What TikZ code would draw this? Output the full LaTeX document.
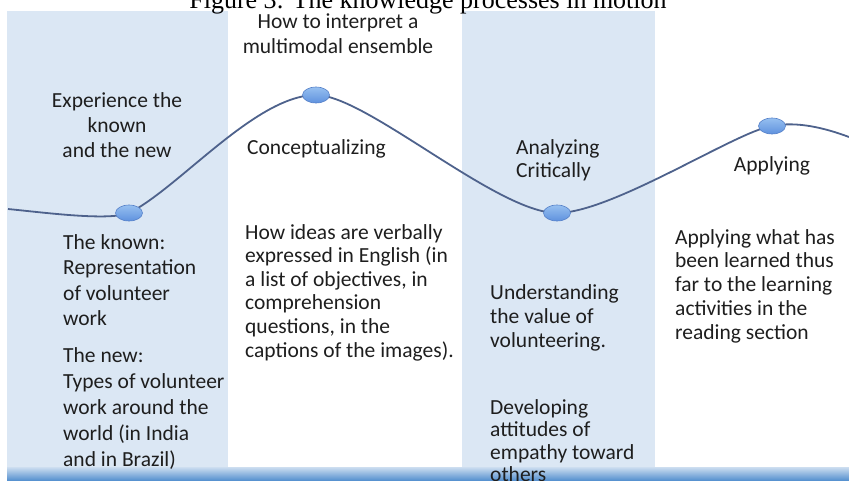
\documentclass[tikz,border=0pt]{standalone}
\usepackage{fontspec}
\usetikzlibrary{shapes.geometric}
\newfontfamily\bodyfont{Carlito}
\newfontfamily\titlefont{Liberation Serif}
\definecolor{panel}{RGB}{219,231,244}
\definecolor{wave}{RGB}{78,98,140}
\definecolor{dottop}{RGB}{150,192,240}
\definecolor{dotbottom}{RGB}{95,145,222}
\definecolor{dotedge}{RGB}{85,128,200}
\definecolor{ink}{RGB}{30,30,30}
\definecolor{barlight}{RGB}{205,222,240}
\definecolor{bardark}{RGB}{88,146,208}

\begin{document}
\begin{tikzpicture}[x=1pt,y=-1pt,
  leadsize/.style={font=\bodyfont\fontsize{21.5}{#1}\selectfont},
  txt/.style={leadsize=24, text=ink,
    inner sep=0pt, align=left, anchor=north west},
  ctxt/.style={txt, align=center, anchor=north},
  stage/.style={ellipse, minimum width=27pt, minimum height=16pt,
    inner sep=0pt, draw=dotedge, line width=0.6pt,
    top color=dottop, bottom color=dotbottom},
  wavepath/.style={draw=wave, line width=1.8pt}]

\useasboundingbox (0,0) rectangle (849,480);
\clip (0,0) rectangle (849,480);

% shaded columns and the base bar
\fill[panel] (7,11) rectangle (228,480);
\fill[panel] (462,11) rectangle (655,480);
\shade[top color=barlight, bottom color=bardark] (7,467) rectangle (849,480);

% caption above the figure
\node[font=\titlefont\fontsize{26}{30}\selectfont, text=black, anchor=base,
  inner sep=0pt] (title) at (428,8.5) {Figure 3: The knowledge processes in motion};

% the wave and its four stages
\coordinate (w0) at (8,209);
\coordinate (p1) at (129,213);
\coordinate (p2) at (316,95);
\coordinate (p3) at (557,213);
\coordinate (p4) at (772,126);
\coordinate (w5) at (849,137);

\path[wavepath] (w0) .. controls +(40,4) and +(-20,8) .. (p1)
  .. controls +(50,-25) and +(-60,0) .. (p2)
  .. controls +(50,0) and +(-60,0) .. (p3)
  .. controls +(55,0) and +(-35,5) .. (p4)
  .. controls +(25,-5) and +(-24,-9) .. (w5);

\node[stage] (s1) at (p1) {};
\node[stage] (s2) at (p2) {};
\node[stage] (s3) at (p3) {};
\node[stage] (s4) at (p4) {};

% stage names
\node[ctxt, leadsize=25] (hdr) at (338,14) {How to interpret a\\multimodal ensemble};
\node[ctxt, leadsize=25] (exp) at (117,92) {Experience the\\known\\and the new};
\node[txt] (con) at (247,139) {Conceptualizing};
\node[txt, leadsize=23] (ana) at (516,139) {Analyzing\\Critically};
\node[ctxt] (app) at (772,156) {Applying};

% what each stage covers
\node[txt, leadsize=25.5] (known) at (63,234) {The known:\\Representation\\of volunteer\\work};
\node[txt, leadsize=26] (new) at (63,347) {The new:\\Types of volunteer\\work around the\\world (in India\\and in Brazil)};
\node[txt, leadsize=23.6] (ideas) at (245,224) {How ideas are verbally\\expressed in English (in\\a list of objectives, in\\comprehension\\questions, in the\\captions of the images).};
\node[txt] (value) at (490,284) {Understanding\\the value of\\volunteering.};
\node[txt, leadsize=22.5] (empathy) at (490,399) {Developing\\attitudes of\\empathy toward\\others};
\node[txt, leadsize=23.8] (learned) at (675,229) {Applying what has\\been learned thus\\far to the learning\\activities in the\\reading section};
\end{tikzpicture}
\end{document}
